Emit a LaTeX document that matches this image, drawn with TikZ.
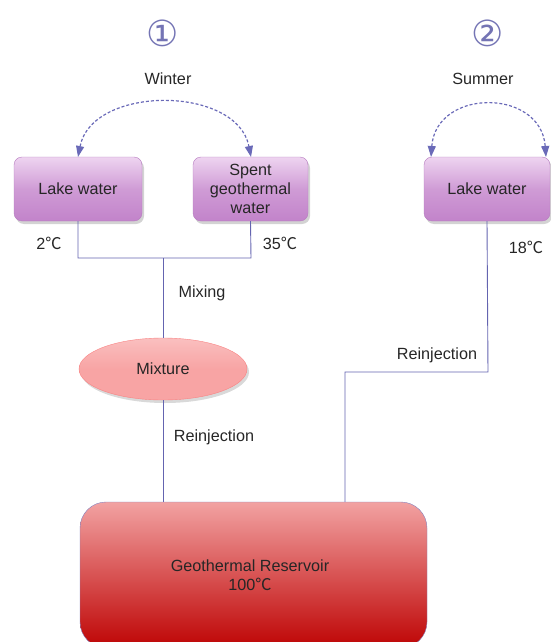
\documentclass[tikz,border=0pt]{standalone}
\usepackage{fontspec}
\setmainfont{Liberation Sans}
\newfontfamily\symfont{DejaVu Sans}
\newfontfamily\cjkf{Noto Sans CJK SC}
\usetikzlibrary{shadows,arrows.meta,shapes.geometric}
\definecolor{linec}{HTML}{6464B0}
\definecolor{arcc}{HTML}{6A6AB8}
\definecolor{purtop}{HTML}{EED4F0}
\definecolor{purbot}{HTML}{C283CA}
\definecolor{purdraw}{HTML}{B67CC0}
\definecolor{pinkc}{HTML}{F8A4A4}
\definecolor{restop}{HTML}{F2A2A2}
\definecolor{resbot}{HTML}{BE0404}
\definecolor{numc}{HTML}{7474B4}
\newcommand{\degc}{{\cjkf ℃}}
\tikzset{
  txt/.style={font=\fontsize{16.2}{19}\selectfont, text=black!85},
  purbox/.style={txt, draw=purdraw, rounded corners=8pt, top color=purtop, bottom color=purbot, middle color=purbot!70!purtop,
     drop shadow={shadow xshift=2pt, shadow yshift=-3pt, opacity=0.35}, minimum height=64pt, align=center, inner sep=0pt},
  flow/.style={draw=linec, line width=0.9pt},
  swap/.style={draw=arcc, line width=1.2pt, dashed, dash pattern=on 3pt off 2pt},
  numtxt/.style={font=\symfont\fontsize{36}{36}\selectfont, text=numc}
}
\begin{document}
\begin{tikzpicture}[x=1pt,y=-1pt]
\useasboundingbox (0,0) rectangle (550,642);
% numbers and season labels
\node[numtxt] (n1) at (163,33) {①};
\node[numtxt] (n2) at (488,33) {②};
\node[txt] (winter) at (168,79) {Winter};
\node[txt] (summer) at (483,79) {Summer};
% boxes
\node[purbox, minimum width=128pt] (lake1) at (78,189) {Lake water};
\node[purbox, minimum width=115pt] (spent) at (250.5,189) {Spent\\geothermal\\water};
\node[purbox, minimum width=126pt] (lake2) at (487,189) {Lake water};
% mixture
\node[txt, ellipse, draw=pinkc!80!red, top color=pinkc!70!white, bottom color=pinkc, middle color=pinkc,
      minimum width=168pt, minimum height=62pt, inner sep=0pt,
      drop shadow={shadow xshift=2pt, shadow yshift=-3pt, opacity=0.3}] (mix) at (163,369) {Mixture};
% reservoir
\node[txt, draw=linec!80, rounded corners=26pt, top color=restop, bottom color=resbot,
      minimum width=347pt, minimum height=146pt, inner sep=0pt, align=center] (res) at (253.5,575)
      {};
\node[txt, align=center] (restxt) at (250,575) {Geothermal Reservoir\\100\degc};
% swap arcs
\coordinate (a1) at (78,157);
\coordinate (a2) at (251,157);
\draw[swap, {Triangle[width=8pt,length=11pt]}-{Triangle[width=8pt,length=11pt]}] (a1) .. controls (92,85) and (237,85) .. (a2);
\coordinate (b1) at (431,157);
\coordinate (b2) at (546,157);
\draw[swap, {Triangle[width=8pt,length=11pt]}-{Triangle[width=8pt,length=11pt]}] (b1) .. controls (436,88) and (541,88) .. (b2);
% flow lines
\coordinate (j1) at (78,258);
\coordinate (j2) at (251,258);
\coordinate (jm) at (163,258);
\draw[flow] (lake1.south) -- (j1) -- (j2) -- (spent.south);
\draw[flow] (jm) -- (mix.north);
\draw[flow] (mix.south) -- (res.north -| mix.south);
\coordinate (r1) at (488,372);
\coordinate (r2) at (345,372);
\draw[flow] (lake2.south) -- (r1) -- (r2) -- (r2 |- res.north);
% labels
\node[txt] (t2) at (49,243) {2\degc};
\node[txt] (t35) at (280,243) {35\degc};
\node[txt] (t18) at (526,247) {18\degc};
\node[txt] (mixing) at (202,293) {Mixing};
\node[txt] (rein1) at (214,437) {Reinjection};
\node[txt] (rein2) at (437,355) {Reinjection};
\end{tikzpicture}
\end{document}
